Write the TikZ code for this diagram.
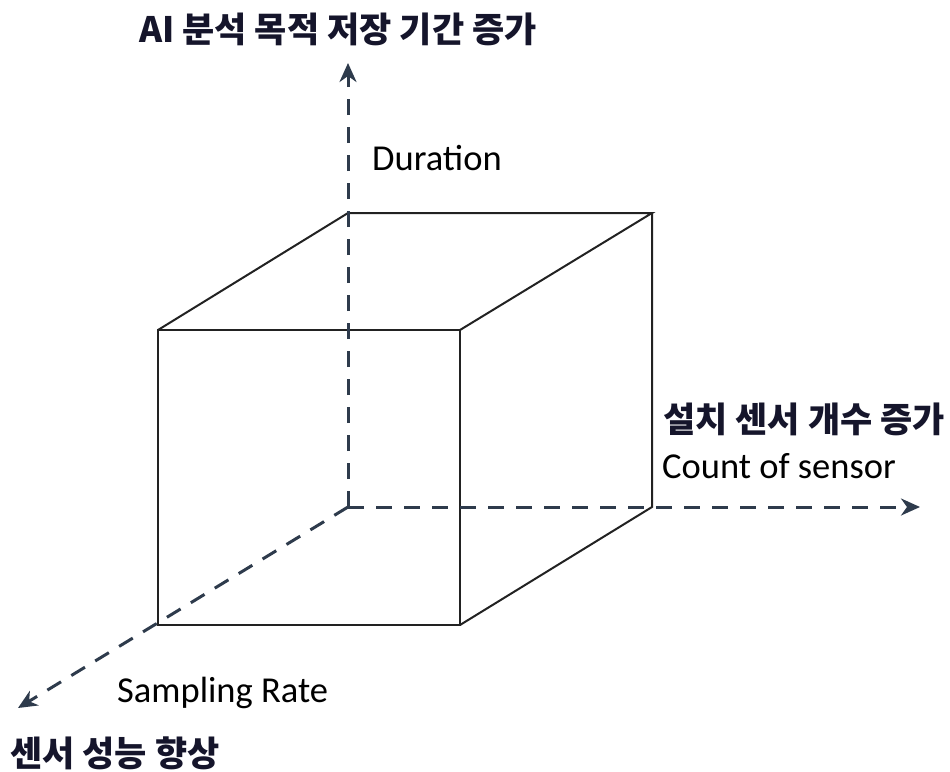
\documentclass[tikz,border=0pt]{standalone}
\usepackage{fontspec}
\setmainfont{Carlito}
\newfontfamily\kr{Noto Sans CJK KR}
\usetikzlibrary{arrows.meta}
\definecolor{axiscol}{HTML}{2E3B4C}
\definecolor{krcol}{HTML}{15152B}
\definecolor{edgecol}{HTML}{222222}
\tikzset{
  axis/.style={draw=axiscol, line width=3pt, dash pattern=on 16pt off 12pt, -{Stealth[length=19pt,width=17pt,inset=6pt]}},
  edge/.style={draw=edgecol, line width=2pt, line join=miter},
  entext/.style={inner sep=0pt, anchor=base west, font=\fontsize{36.5}{42}\selectfont, text=black},
  krtext/.style={inner sep=0pt, anchor=base west, font=\kr\bfseries\fontsize{35}{40}\selectfont, text=krcol}
}
\begin{document}
\begin{tikzpicture}[x=1pt,y=-1pt]
\useasboundingbox (0,0) rectangle (950,771);
% cube corners
\coordinate (ftl) at (158,330);
\coordinate (ftr) at (460,330);
\coordinate (fbl) at (158,625);
\coordinate (fbr) at (460,625);
\coordinate (btl) at (348,213);
\coordinate (btr) at (652,213);
\coordinate (bbr) at (652,507);
\coordinate (o) at (348,507);
\coordinate (yend) at (348,63);
\coordinate (xend) at (920,507);
\coordinate (zend) at (18,708);
% cube
\draw[edge] (ftl) -- (ftr) -- (fbr) -- (fbl) -- cycle;
\draw[edge] (ftl) -- (btl) -- (btr) -- (ftr);
\draw[edge] (btr) -- (bbr) -- (fbr);
% axes
\draw[axis] (o) -- (yend);
\draw[axis] (o) -- (xend);
\draw[axis] (o) -- (zend);
% labels
\node[krtext] (tY) at (139,42) {AI 분석 목적 저장 기간 증가};
\node[entext] (lY) at (372,170) {Duration};
\node[krtext] (tX) at (663,432) {설치 센서 개수 증가};
\node[entext] (lX) at (662,478) {Count of sensor};
\node[entext] (lZ) at (117,702) {Sampling Rate};
\node[krtext] (tZ) at (10,766) {센서 성능 향상};
\end{tikzpicture}
\end{document}
